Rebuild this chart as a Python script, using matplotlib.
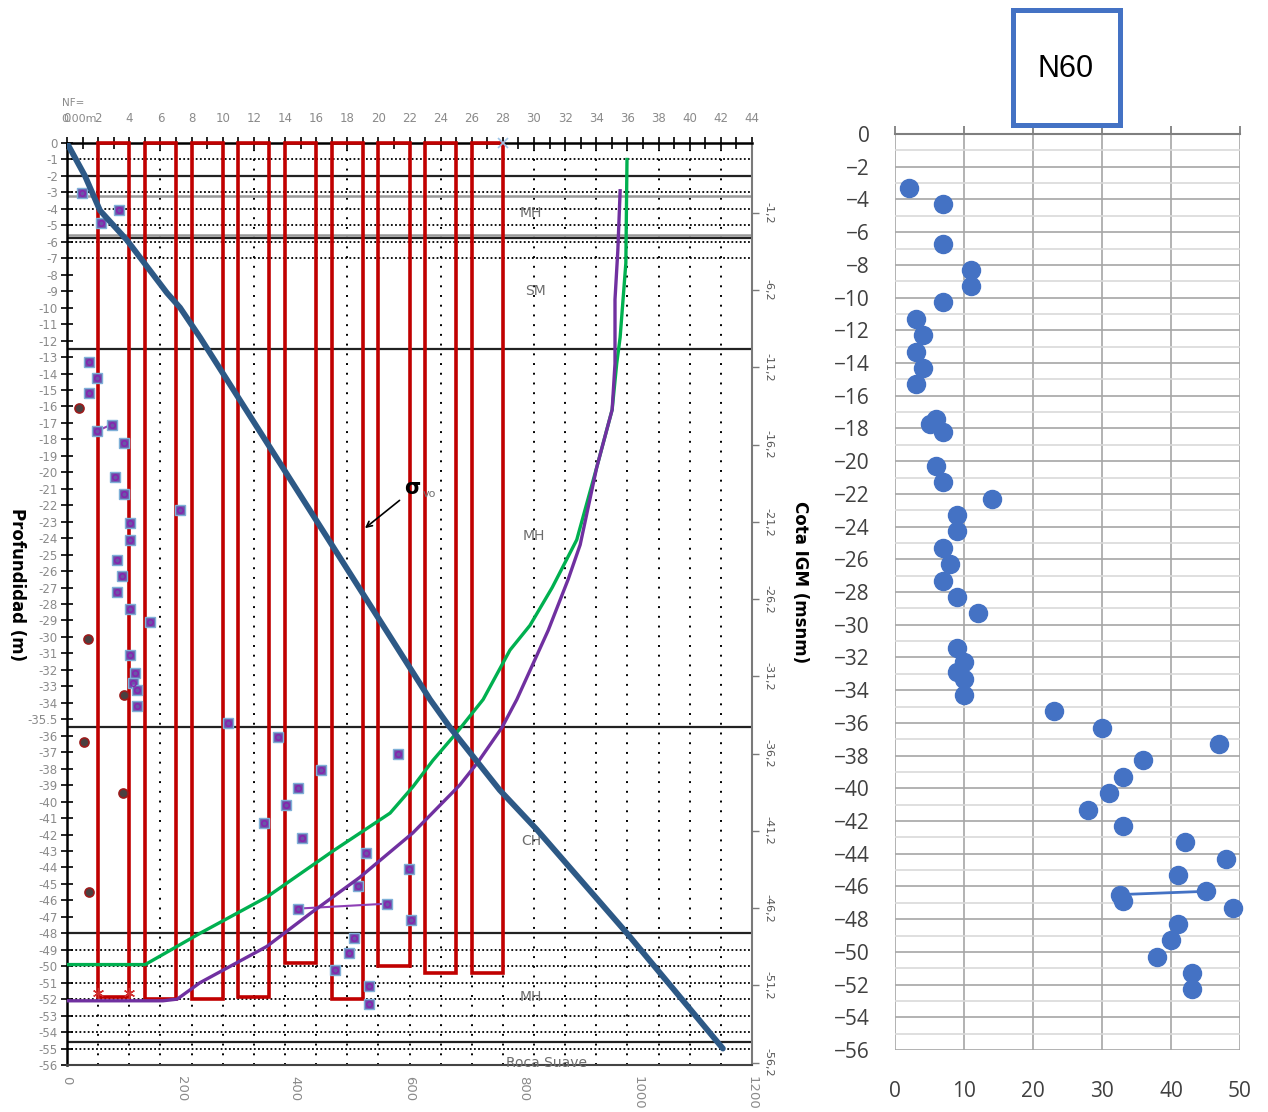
import matplotlib
matplotlib.use("Agg")
import matplotlib.pyplot as plt
from matplotlib.patches import Rectangle
from matplotlib.ticker import FixedLocator, MultipleLocator

# ---------------- SPT profile (left panel) ----------------
# Red columns on the N scale: left edge, right edge, bottom depth (m)
col_left = [2, 5, 8, 11, 14, 17, 20, 23, 26]
col_right = [4, 7, 10, 13, 16, 19, 22, 25, 28]
col_bottom = [-51.9, -52.0, -52.0, -51.9, -49.8, -52.0, -50.0, -50.4, -50.4]

# Field N values (purple squares)
spt_n = [0.98, 3.34, 2.18, 1.43, 1.93, 1.43, 1.90, 2.87, 3.68, 3.10, 3.66, 7.28,
         4.05, 4.05, 3.19, 3.55, 3.19, 4.05, 5.35, 4.05, 4.39, 4.22, 4.48, 4.48,
         10.36, 13.57, 21.28, 16.29, 14.86, 14.07, 12.67, 15.11, 19.18, 21.95,
         18.67, 20.57, 14.86, 22.07, 18.45, 18.13, 17.21, 19.42, 19.40]
spt_depth = [-3.06, -4.07, -4.84, -13.3, -14.3, -15.2, -17.5, -17.1, -18.2, -20.3,
             -21.3, -22.3, -23.1, -24.1, -25.3, -26.3, -27.3, -28.3, -29.1, -31.1,
             -32.2, -32.8, -33.2, -34.2, -35.2, -36.1, -37.1, -38.1, -39.2, -40.2,
             -41.3, -42.2, -43.1, -44.1, -45.1, -46.2, -46.5, -47.2, -48.3, -49.2,
             -50.2, -51.2, -52.3]
spt_links = [(6, 7), (35, 36)]

# Additional readings (dark circles)
ref_n = [0.77, 1.33, 3.66, 1.11, 3.58, 1.43]
ref_depth = [-16.1, -30.15, -33.5, -36.4, -39.5, -45.5]

# Effective vertical stress (kPa)
sigma_kpa = [0, 31.5, 57.8, 105, 140, 175, 198, 233, 636, 671, 758, 823, 981, 1149]
sigma_depth = [0, -2.0, -4.1, -5.9, -7.5, -9.1, -10.0, -11.8, -33.8, -35.5, -39.3,
               -41.7, -48.0, -55.0]

# Green curve (kPa)
green_kpa = [981, 979, 969, 963, 955, 928, 893, 850, 811, 776, 729, 683, 641, 606,
             566, 466, 350, 233, 137, 0]
green_depth = [-1.0, -7.3, -11.8, -13.4, -16.2, -19.7, -24.1, -27.0, -29.3, -30.8,
               -33.8, -35.8, -37.5, -39.1, -40.7, -43.0, -45.8, -48.0, -49.9, -49.9]

# Purple curve (kPa)
purple_kpa = [969, 965, 960, 960, 960, 955, 928, 899, 878, 843, 788, 762, 720, 688,
              606, 513, 426, 350, 233, 193, 168, 0]
purple_depth = [-2.9, -6.5, -9.5, -11.8, -13.4, -16.2, -19.7, -24.4, -26.5, -29.6,
                -33.8, -35.5, -37.6, -39.0, -41.9, -44.6, -46.8, -48.8, -51.0, -52.0,
                -52.1, -52.1]

# Stratigraphy
layer_black = [-2.0, -5.75, -12.5, -35.5, -48.0, -54.6]
layer_gray = [-3.2, -5.6]
layer_names = ["MH", "SM", "MH", "CH", "MH", "Roca Suave"]
layer_label_depth = [-4.25, -9.0, -23.9, -42.4, -51.9, -55.9]
layer_label_n = [29.8, 30.1, 30.0, 29.8, 29.8, 30.8]
dotted_depths = [-1, -2, -3, -4, -5, -6, -7, -49, -50, -51, -52, -53, -54, -55]

depth_ticks = list(range(0, -57, -1))
depth_labels = [str(d) for d in depth_ticks]
depth_labels[35] = "-35.5"
n_ticks = list(range(0, 45, 2))
kpa_ticks = [0, 200, 400, 600, 800, 1000, 1200]
cota_ticks = [-1.2, -6.2, -11.2, -16.2, -21.2, -26.2, -31.2, -36.2, -41.2, -46.2,
              -51.2, -56.2]

# ---------------- N60 (right panel) ----------------
n60 = [2, 7, 7, 11, 11, 7, 3, 4, 3, 4, 3, 6, 5, 7, 6, 7, 14, 9, 9, 7, 8, 7, 9, 12,
       9, 10, 9, 10, 10, 23, 30, 47, 36, 33, 31, 28, 33, 42, 48, 41, 45, 32.6, 33,
       49, 41, 40, 38, 43, 43]
n60_depth = [-3.3, -4.3, -6.7, -8.3, -9.3, -10.3, -11.3, -12.3, -13.3, -14.3, -15.3,
             -17.4, -17.7, -18.2, -20.3, -21.3, -22.3, -23.3, -24.3, -25.3, -26.3,
             -27.3, -28.3, -29.3, -31.4, -32.3, -32.9, -33.3, -34.3, -35.3, -36.3,
             -37.3, -38.3, -39.3, -40.3, -41.3, -42.3, -43.3, -44.3, -45.3, -46.3,
             -46.5, -46.9, -47.3, -48.3, -49.3, -50.3, -51.3, -52.3]
n60_link = (40, 41)

W, H = 1268, 1112
fig = plt.figure(figsize=(W / 100, H / 100), dpi=100)
fig.patch.set_facecolor("white")

GRAY = "#8a8a8a"
RED = "#C00000"

# ---- left panel: N scale on top ----
ax = fig.add_axes([67 / W, (H - 1065) / H, 685 / W, 922 / H])
ax.set_xlim(0, 44)
ax.set_ylim(-56, 0)

# twin scales (created first so the N axis can be moved back to the top)
ax2 = ax.twiny()
ax3 = ax.twinx()

for x in range(2, 44, 2):
    ax.axvline(x, color="black", lw=1.4, ls=(0, (1, 4)), zorder=1)
for d in dotted_depths:
    ax.axhline(d, color="black", lw=1.3, ls=(0, (1, 1.3)), zorder=1)
for d in layer_black:
    ax.axhline(d, color="#222222", lw=1.6, zorder=2)
for d in layer_gray:
    ax.axhline(d, color="#9a9a9a", lw=1.8, zorder=2)

for l, r, b in zip(col_left, col_right, col_bottom):
    ax.add_patch(Rectangle((l, b), r - l, -b, fill=False, edgecolor=RED, lw=2.6,
                           zorder=3, clip_on=False))

for i, j in spt_links:
    ax.plot([spt_n[i], spt_n[j]], [spt_depth[i], spt_depth[j]], color="#8E3FB5",
            lw=1.5, zorder=4)
ax.plot(spt_n, spt_depth, ls="none", marker="s", ms=7.5, mfc="#6A55A8",
        mec="#7FB0D8", mew=1.0, zorder=5)
ax.plot(spt_n, spt_depth, ls="none", marker="o", ms=4, mfc="none",
        mec="#8A1FB0", mew=1.0, zorder=6)
ax.plot(ref_n, ref_depth, ls="none", marker="o", ms=6.5, mfc="#4a4040",
        mec="#9B1B1B", mew=1.2, zorder=5)
ax.plot([2, 4], [-51.6, -51.6], ls="none", marker=(6, 2, 0), ms=8, color="#D03030",
        mew=1.0, zorder=5)
ax.plot([28], [0], ls="none", marker="x", ms=7, color="#9DC3E6", mew=1.2,
        zorder=6, clip_on=False)

for name, d, x in zip(layer_names, layer_label_depth, layer_label_n):
    ax.text(x, d, name, ha="center", va="center", fontsize=10, color="#6d6d6d",
            family="DejaVu Sans", zorder=7)

ax.text(22.16, -20.96, "σ", fontsize=15, fontweight="bold", ha="center",
        va="center", color="black", zorder=8)
ax.text(23.25, -21.3, "vo", fontsize=8, ha="center", va="center", color="#707070",
        zorder=8)
ax.annotate("", xy=(19.0, -23.5), xytext=(21.5, -21.6),
            arrowprops=dict(arrowstyle="->", color="black", lw=1.2), zorder=8)

ax.xaxis.set_ticks_position("top")
ax.xaxis.set_label_position("top")
ax.xaxis.set_major_locator(FixedLocator(n_ticks))
ax.xaxis.set_minor_locator(MultipleLocator(1))
ax.set_xticklabels([str(v) for v in n_ticks])
ax.tick_params(axis="x", which="both", direction="inout", length=8, width=1.2,
               colors="black", labelcolor=GRAY, labelsize=8.5, pad=9, top=True,
               bottom=False, labeltop=True, labelbottom=False)
ax.yaxis.set_major_locator(FixedLocator(depth_ticks))
ax.set_yticklabels(depth_labels)
ax.tick_params(axis="y", direction="inout", length=9, width=1.2, colors="black",
               labelcolor=GRAY, labelsize=8.5, pad=2)
for s in ["left", "top"]:
    ax.spines[s].set_linewidth(1.8)
    ax.spines[s].set_color("black")
ax.spines["right"].set_color("#7a7a7a")
ax.spines["right"].set_linewidth(1.5)
ax.spines["bottom"].set_color("#444444")
ax.spines["bottom"].set_linewidth(1.5)

# ---- stress scale on the bottom ----
ax2.set_xlim(0, 1200)
ax2.xaxis.set_ticks_position("bottom")
ax2.xaxis.set_label_position("bottom")
ax2.set_xticks(kpa_ticks)
ax2.set_xticklabels([str(v) for v in kpa_ticks], rotation=-90)
ax2.tick_params(axis="x", length=0, labelsize=9.5, labelcolor=GRAY, pad=8,
                top=False, labeltop=False, bottom=True, labelbottom=True)
for s in ax2.spines.values():
    s.set_visible(False)
ax2.plot(sigma_kpa, sigma_depth, color="#2D5986", lw=4.2, solid_capstyle="round",
         zorder=5)
ax2.plot(green_kpa, green_depth, color="#00B050", lw=2.4, zorder=4)
ax2.plot(purple_kpa, purple_depth, color="#7030A0", lw=2.4, zorder=4)

# ---- elevation scale on the right ----
ax3.set_ylim(-56.36, 3.33)
ax3.set_yticks(cota_ticks)
ax3.set_yticklabels([f"{v:.1f}".replace(".", ",") for v in cota_ticks],
                    rotation=-90, va="center")
ax3.tick_params(axis="y", direction="out", length=5, width=1, colors="#7a7a7a",
                labelcolor="#555555", labelsize=8, pad=3)
for s in ax3.spines.values():
    s.set_visible(False)

fig.text(73 / W, 1 - 103 / H, "NF=", fontsize=7.5, color=GRAY, ha="center",
         va="center")
fig.text(79 / W, 1 - 119 / H, "0.00m", fontsize=8, color=GRAY, ha="center",
         va="center")
fig.text(17 / W, 1 - 585 / H, "Profundidad (m)", rotation=-90, fontsize=12,
         fontweight="bold", ha="center", va="center")
fig.text(800 / W, 1 - 582 / H, "Cota IGM (msnm)", rotation=-90, fontsize=12,
         fontweight="bold", ha="center", va="center")

# ---- right panel: N60 ----
axn = fig.add_axes([895 / W, (H - 1050) / H, 345 / W, 916 / H])
axn.set_xlim(0, 50)
axn.set_ylim(-56, 0)
axn.set_xticks(range(0, 51, 10))
axn.set_yticks(range(-56, 1, 2))
axn.yaxis.set_minor_locator(MultipleLocator(1))
axn.grid(axis="x", which="major", color="#A6A6A6", lw=1.2)
axn.grid(axis="y", which="major", color="#A6A6A6", lw=1.2)
axn.grid(axis="y", which="minor", color="#D9D9D9", lw=1.2)
axn.set_axisbelow(True)
for s in ["left", "right", "bottom"]:
    axn.spines[s].set_visible(False)
axn.spines["top"].set_color("#7f7f7f")
axn.spines["top"].set_linewidth(1.5)
axn.tick_params(axis="x", top=True, bottom=False, labeltop=False, labelbottom=True,
                direction="out", length=6, width=1.3, color="#7f7f7f",
                labelcolor="#404040", labelsize=15, pad=16)
axn.tick_params(axis="y", which="both", length=0, labelcolor="#404040",
                labelsize=15, pad=18)
for lab in axn.get_xticklabels() + axn.get_yticklabels():
    lab.set_family("Open Sans")
i, j = n60_link
axn.plot([n60[i], n60[j]], [n60_depth[i], n60_depth[j]], color="#4472C4", lw=2,
         zorder=3)
axn.plot(n60, n60_depth, ls="none", marker="o", ms=13, mfc="#4472C4",
         mec="#4472C4", zorder=4, clip_on=False)

fig.add_artist(Rectangle((1013 / W, 1 - 125 / H), 107 / W, 115 / H,
                         transform=fig.transFigure, fill=False,
                         edgecolor="#4472C4", lw=3.6))
fig.text(1066 / W, 1 - 69 / H, "N60", fontsize=22, family="Liberation Sans",
         ha="center", va="center", color="black")

fig.savefig("out.png", dpi=100)
